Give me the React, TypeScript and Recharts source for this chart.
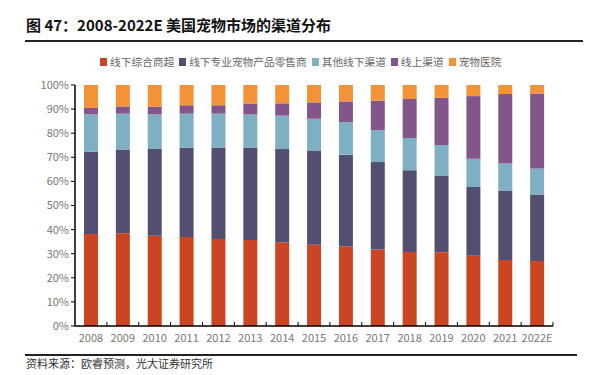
import React from 'react';
import { BarChart, Bar, XAxis, YAxis } from 'recharts';

const years = ['2008', '2009', '2010', '2011', '2012', '2013', '2014', '2015', '2016', '2017', '2018', '2019', '2020', '2021', '2022E'];
const massRetail = [38.2, 38.5, 37.5, 36.9, 36.1, 35.7, 34.7, 33.7, 33.1, 31.7, 30.7, 30.6, 29.2, 27.4, 27.0];
const petSpecialty = [34.1, 34.7, 36.1, 37.0, 38.0, 38.4, 38.7, 38.9, 38.0, 36.3, 33.9, 31.8, 28.5, 28.8, 27.6];
const otherOffline = [15.5, 14.9, 14.2, 14.2, 14.0, 13.7, 13.9, 13.4, 13.5, 13.3, 13.4, 12.7, 11.7, 11.2, 10.8];
const online = [2.7, 3.0, 3.2, 3.5, 3.5, 4.5, 5.1, 6.8, 8.6, 12.2, 16.2, 19.6, 26.0, 28.9, 31.1];
const vetClinic = [9.5, 8.9, 9.0, 8.4, 8.4, 7.7, 7.6, 7.2, 6.8, 6.5, 5.8, 5.3, 4.6, 3.7, 3.5];
const yTicks = [0, 10, 20, 30, 40, 50, 60, 70, 80, 90, 100];

const series = [
  { key: 'a', name: '线下综合商超', color: '#cc4522', values: massRetail },
  { key: 'b', name: '线下专业宠物产品零售商', color: '#534f71', values: petSpecialty },
  { key: 'c', name: '其他线下渠道', color: '#7eafc3', values: otherOffline },
  { key: 'd', name: '线上渠道', color: '#84558a', values: online },
  { key: 'e', name: '宠物医院', color: '#f39237', values: vetClinic },
];

const data = years.map((year, i) => {
  const row: any = { year };
  series.forEach((s) => {
    row[s.key] = s.values[i];
  });
  return row;
});

const font = '"Noto Sans CJK SC", "Noto Sans", sans-serif';

function XTick({ x, y, payload }: any) {
  const half = 478 / years.length / 2;
  return (
    <g>
      <line x1={x + half} x2={x + half} y1={y - 8} y2={y - 12} stroke="#000" strokeWidth={1} />
      <text x={x} y={y + 8} textAnchor="middle" fill="#777" fontSize={11} fontFamily={font}>
        {payload.value}
      </text>
    </g>
  );
}

export default function App() {
  return (
    <div style={{ position: 'absolute', left: 0, top: 0, width: 600, height: 375, background: '#fff', fontFamily: font }}>
      <div style={{ position: 'absolute', left: 26, top: 14, fontSize: 15, lineHeight: '22px', fontWeight: 700, color: '#111', whiteSpace: 'nowrap' }}>
        图 47：2008-2022E 美国宠物市场的渠道分布
      </div>
      <div style={{ position: 'absolute', left: 25, top: 40, width: 558, height: 1.5, background: '#222' }} />
      <div style={{ position: 'absolute', left: 100, top: 54, display: 'flex', fontSize: 10.7, lineHeight: '16px', color: '#666', whiteSpace: 'nowrap' }}>
        {series.map((s) => (
          <div key={s.key} style={{ display: 'flex', alignItems: 'center', marginRight: 5 }}>
            <span style={{ width: 7, height: 8, background: s.color, marginRight: 3 }} />
            <span>{s.name}</span>
          </div>
        ))}
      </div>
      <div style={{ position: 'absolute', left: 0, top: 0 }}>
        <BarChart width={600} height={375} data={data} margin={{ top: 85, right: 47, bottom: 19, left: 35 }} barSize={14}>
          <XAxis
            dataKey="year"
            height={30}
            axisLine={{ stroke: '#000', strokeWidth: 1.5 }}
            tickLine={false}
            tick={<XTick />}
            interval={0}
          />
          <YAxis
            width={40}
            domain={[0, 100]}
            ticks={yTicks}
            tickFormatter={(v: number) => `${v}%`}
            axisLine={{ stroke: '#000', strokeWidth: 1.5 }}
            tickLine={{ stroke: '#000' }}
            tickSize={4}
            tick={{ fill: '#777', fontSize: 11, fontFamily: font }}
            allowDataOverflow
          />
          {series.map((s) => (
            <Bar key={s.key} dataKey={s.key} stackId="s" fill={s.color} isAnimationActive={false} />
          ))}
        </BarChart>
      </div>
      <div style={{ position: 'absolute', left: 25, top: 354, width: 552, height: 1.5, background: '#222' }} />
      <div style={{ position: 'absolute', left: 26, top: 356, fontSize: 11, lineHeight: '15px', color: '#333', whiteSpace: 'nowrap' }}>
        资料来源：欧睿预测，光大证券研究所
      </div>
    </div>
  );
}
